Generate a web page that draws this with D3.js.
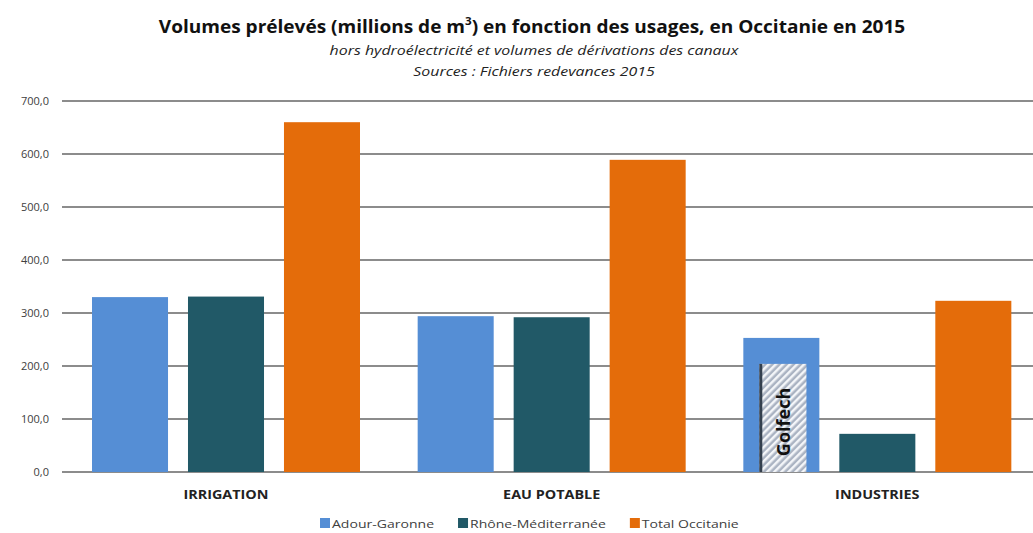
<!DOCTYPE html>
<html>
<head>
<meta charset="utf-8">
<script src="https://cdn.jsdelivr.net/npm/d3@7"></script>
<style>
  body { margin: 0; background: #fff; }
  svg { display: block; font-family: "Open Sans", "Liberation Sans", sans-serif; }
</style>
</head>
<body>
<svg id="chart"></svg>
<script>
// données
const categories = ["IRRIGATION", "EAU POTABLE", "INDUSTRIES"];
const seriesNames = ["Adour-Garonne", "Rhône-Méditerranée", "Total Occitanie"];
const adourGaronne = [330, 294, 253];
const rhoneMed = [331, 292, 72];
const totalOccitanie = [660, 589, 323];
const golfech = 204; // part de Golfech dans Industries Adour-Garonne
const yTicks = [0, 100, 200, 300, 400, 500, 600, 700];

const width = 1033, height = 533;
const colors = ["#558ed5", "#215967", "#e46c0a"];

const data = categories.map((c, i) => ({
  cat: c,
  values: [adourGaronne[i], rhoneMed[i], totalOccitanie[i]]
}));

const svg = d3.select("#chart")
  .attr("width", width)
  .attr("height", height)
  .attr("viewBox", [0, 0, width, height]);

const x = d3.scaleBand(categories, [63, 1040]);
const xs = d3.scaleBand(d3.range(3), [29, 297]).paddingInner(0.208);
const y = d3.scaleLinear([0, 700], [472, 101]);

// étire le texte horizontalement (l'original est plus large)
function stretch(sel, k) {
  sel.each(function() {
    const w = this.getComputedTextLength();
    d3.select(this).attr("textLength", w * k).attr("lengthAdjust", "spacingAndGlyphs");
  });
}

// hachures Golfech
const defs = svg.append("defs");
const pat = defs.append("pattern")
  .attr("id", "hatch")
  .attr("patternUnits", "userSpaceOnUse")
  .attr("width", 5).attr("height", 5)
  .attr("patternTransform", "rotate(45)");
pat.append("rect").attr("width", 5).attr("height", 5).attr("fill", "#aab3c2");
pat.append("rect").attr("width", 2.5).attr("height", 5).attr("fill", "#f4f6f9");

// grille
svg.append("g")
  .selectAll("line")
  .data(yTicks)
  .join("line")
    .attr("x1", 62).attr("x2", width)
    .attr("y1", d => y(d)).attr("y2", d => y(d))
    .attr("stroke", "#8c8c8c")
    .attr("stroke-width", 2);

// axe y
const fmt = d => d3.format(".1f")(d).replace(".", ",");
svg.append("g")
  .attr("font-size", 11)
  .attr("fill", "#404040")
  .selectAll("text")
  .data(yTicks)
  .join("text")
    .attr("x", 49)
    .attr("y", d => y(d))
    .attr("dy", "0.35em")
    .attr("text-anchor", "end")
    .text(fmt);

// barres
const groups = svg.append("g")
  .selectAll("g")
  .data(data)
  .join("g")
    .attr("transform", d => `translate(${x(d.cat)},0)`);

groups.selectAll("rect")
  .data(d => d.values)
  .join("rect")
    .attr("x", (d, i) => xs(i))
    .attr("width", xs.bandwidth())
    .attr("y", d => y(d))
    .attr("height", d => y(0) - y(d))
    .attr("fill", (d, i) => colors[i]);

// Golfech
const gx = x("INDUSTRIES") + xs(0) + xs.bandwidth() * 0.21;
const gw = xs.bandwidth() * 0.62;
svg.append("rect")
  .attr("x", gx).attr("y", y(golfech))
  .attr("width", gw).attr("height", y(0) - y(golfech))
  .attr("fill", "url(#hatch)");
svg.append("line")
  .attr("x1", gx + 1.5).attr("x2", gx + 1.5)
  .attr("y1", y(golfech)).attr("y2", y(0))
  .attr("stroke", "#34404e").attr("stroke-width", 3);
svg.append("text")
  .attr("transform", `translate(${gx + gw / 2 + 1},${(y(golfech) + y(0)) / 2 + 4}) rotate(-90)`)
  .attr("text-anchor", "middle")
  .attr("dy", "0.35em")
  .attr("font-size", 18)
  .attr("font-weight", "bold")
  .attr("fill", "#111")
  .text("Golfech");

// catégories
svg.append("g")
  .attr("font-size", 11.5)
  .attr("font-weight", "bold")
  .attr("fill", "#222")
  .selectAll("text")
  .data(categories)
  .join("text")
    .attr("x", d => x(d) + 163)
    .attr("y", 499)
    .attr("text-anchor", "middle")
    .text(d => d)
    .call(stretch, 1.25);

// titres
const title = svg.append("text")
  .attr("x", 532).attr("y", 33)
  .attr("text-anchor", "middle")
  .attr("font-size", 18)
  .attr("font-weight", "bold")
  .attr("fill", "#111");
title.append("tspan").text("Volumes prélevés (millions de m");
title.append("tspan").attr("font-size", 11).attr("dy", -8).text("3");
title.append("tspan").attr("dy", 8).text(") en fonction des usages, en Occitanie en 2015");
title.call(stretch, 745 / (646 * 18 / 16.5));

svg.append("text")
  .attr("x", 534).attr("y", 55)
  .attr("text-anchor", "middle")
  .attr("font-size", 12.5)
  .attr("font-style", "italic")
  .attr("fill", "#222")
  .text("hors hydroélectricité et volumes de dérivations des canaux")
  .call(stretch, 1.27);

svg.append("text")
  .attr("x", 534).attr("y", 76)
  .attr("text-anchor", "middle")
  .attr("font-size", 12.5)
  .attr("font-style", "italic")
  .attr("fill", "#222")
  .text("Sources : Fichiers redevances 2015")
  .call(stretch, 1.27);

// légende
const legend = svg.append("g")
  .attr("transform", "translate(320,518)");
let lx = 0;
seriesNames.forEach((name, i) => {
  const g = legend.append("g").attr("transform", `translate(${lx},0)`);
  g.append("rect")
    .attr("width", 10).attr("height", 10)
    .attr("fill", colors[i]);
  const t = g.append("text")
    .attr("x", 12).attr("y", 10)
    .attr("font-size", 11.5)
    .attr("fill", "#404040")
    .text(name)
    .call(stretch, 1.22);
  lx += 12 + +t.attr("textLength") + 24;
});
</script>
</body>
</html>
